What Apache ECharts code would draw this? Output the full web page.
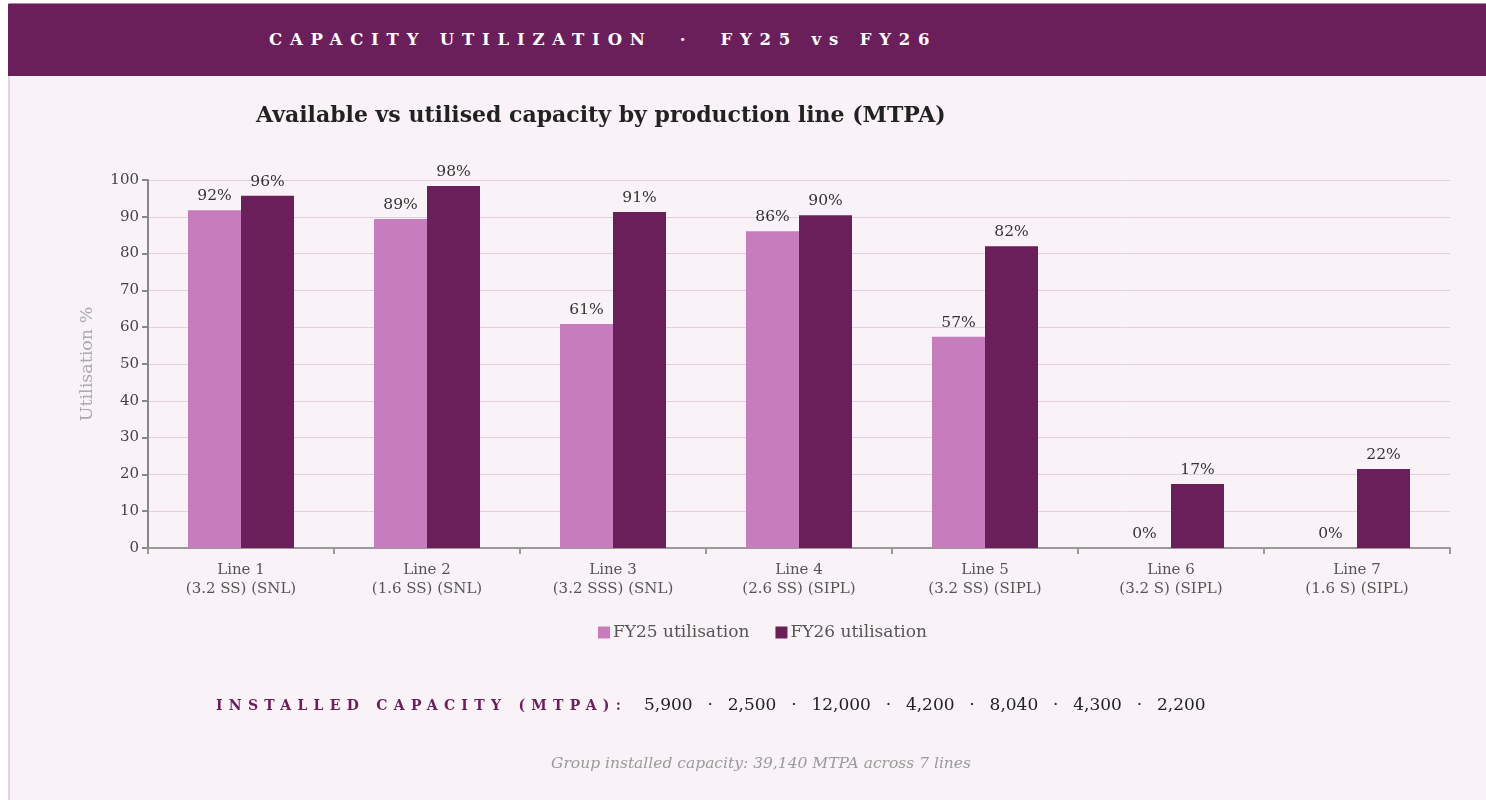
<!DOCTYPE html>
<html>
<head>
<meta charset="utf-8">
<script src="https://cdn.jsdelivr.net/npm/echarts@6/dist/echarts.min.js"></script>
<style>
  html, body { margin: 0; padding: 0; width: 1486px; height: 800px; background: #ffffff; overflow: hidden; }
  #frame { position: absolute; left: 8px; top: 3px; right: 0; bottom: 0; background: #f9f3f8; border-left: 2px solid #e6d2e3; border-top: 1px solid #a58aa0; }
  #header { position: absolute; left: 8px; top: 4px; right: 0; height: 72px; background: #6a1f5b; }
  #headerText { position: absolute; left: 261px; top: 26px; font-family: "DejaVu Serif", serif; font-weight: bold; font-size: 16.5px; letter-spacing: 7.8px; color: #ffffff; white-space: pre; }
  #chart { position: absolute; left: 0; top: 0; width: 1486px; height: 800px; }
  #capLine { position: absolute; left: 216px; top: 694px; white-space: pre; font-family: "DejaVu Serif", serif; }
  #capLabel { font-weight: bold; font-size: 14px; letter-spacing: 6.3px; color: #6a1f5b; }
  #capVals { font-size: 17px; color: #222; margin-left: 2px; word-spacing: 2px; }
  #groupNote { position: absolute; left: 0; width: 1522px; text-align: center; top: 754px; font-family: "DejaVu Serif", serif; font-style: italic; font-size: 15.5px; color: #9a9a9a; }
</style>
</head>
<body>
<div id="frame"></div>
<div id="header"><div id="headerText"></div></div>
<div id="chart"></div>
<div id="capLine"><span id="capLabel"></span><span id="capVals"></span></div>
<div id="groupNote"></div>
<script>
// ---- data ----
const categories = [
  "Line 1\n(3.2 SS) (SNL)",
  "Line 2\n(1.6 SS) (SNL)",
  "Line 3\n(3.2 SSS) (SNL)",
  "Line 4\n(2.6 SS) (SIPL)",
  "Line 5\n(3.2 SS) (SIPL)",
  "Line 6\n(3.2 S) (SIPL)",
  "Line 7\n(1.6 S) (SIPL)"
];
const fy25Utilisation = [91.8, 89.4, 60.9, 86.1, 57.4, 0, 0];
const fy26Utilisation = [95.7, 98.4, 91.3, 90.4, 82.0, 17.4, 21.5];
const installedCapacity = [5900, 2500, 12000, 4200, 8040, 4300, 2200];
const groupCapacity = 39140;
const yTicks = [0, 10, 20, 30, 40, 50, 60, 70, 80, 90, 100];

const headerTitle = "CAPACITY UTILIZATION  ·  FY25 vs FY26";
const chartTitle = "Available vs utilised capacity by production line (MTPA)";

document.getElementById('headerText').textContent = headerTitle;
document.getElementById('capLabel').textContent = "INSTALLED CAPACITY (MTPA):";
document.getElementById('capVals').textContent = "  " + installedCapacity.map(v => v.toLocaleString('en-US')).join("  ·  ");
document.getElementById('groupNote').textContent =
  "Group installed capacity: " + groupCapacity.toLocaleString('en-US') + " MTPA across " + categories.length + " lines";

const serif = "DejaVu Serif";
const chart = echarts.init(document.getElementById('chart'), null, { renderer: 'canvas' });
const labelStyle = {
  show: true, position: 'top', distance: 6,
  fontFamily: serif, fontSize: 15.5, color: '#333',
  formatter: p => Math.round(p.value) + '%'
};
chart.setOption({
  backgroundColor: 'transparent',
  animation: false,
  title: {
    text: chartTitle, left: 251, top: 100,
    textStyle: { fontFamily: serif, fontWeight: 'bold', fontSize: 22, color: '#222' }
  },
  legend: {
    left: 593, top: 619,
    itemWidth: 12, itemHeight: 12, itemGap: 26,
    icon: 'rect',
    textStyle: { fontFamily: serif, fontSize: 17, color: '#555', padding: [0, 0, 0, -2] },
    data: ['FY25 utilisation', 'FY26 utilisation']
  },
  grid: { left: 148, right: 36, top: 180, bottom: 252, containLabel: false },
  xAxis: {
    type: 'category', data: categories,
    axisLine: { lineStyle: { color: '#999', width: 2 } },
    axisTick: { show: true, length: 6, lineStyle: { color: '#999', width: 2 } },
    axisLabel: { fontFamily: serif, fontSize: 15, color: '#555', lineHeight: 19, margin: 13, interval: 0 }
  },
  yAxis: {
    type: 'value', min: yTicks[0], max: yTicks[yTicks.length - 1], interval: 10,
    name: 'Utilisation %', nameLocation: 'middle', nameGap: 52, nameRotate: 90,
    nameTextStyle: { fontFamily: serif, fontSize: 17.5, color: '#aaa' },
    axisLine: { show: true, lineStyle: { color: '#888', width: 2 } },
    axisTick: { show: true, length: 6, lineStyle: { color: '#888', width: 2 } },
    axisLabel: { fontFamily: serif, fontSize: 15, color: '#444', margin: 9 },
    splitLine: { lineStyle: { color: '#e3cfdf', width: 1 } }
  },
  series: [
    { name: 'FY25 utilisation', type: 'bar', data: fy25Utilisation, barWidth: 53, barGap: '0%',
      itemStyle: { color: '#c77cbe' }, label: labelStyle },
    { name: 'FY26 utilisation', type: 'bar', data: fy26Utilisation, barWidth: 53, barGap: '0%',
      itemStyle: { color: '#6a1f5b' }, label: labelStyle }
  ]
});
</script>
</body>
</html>
